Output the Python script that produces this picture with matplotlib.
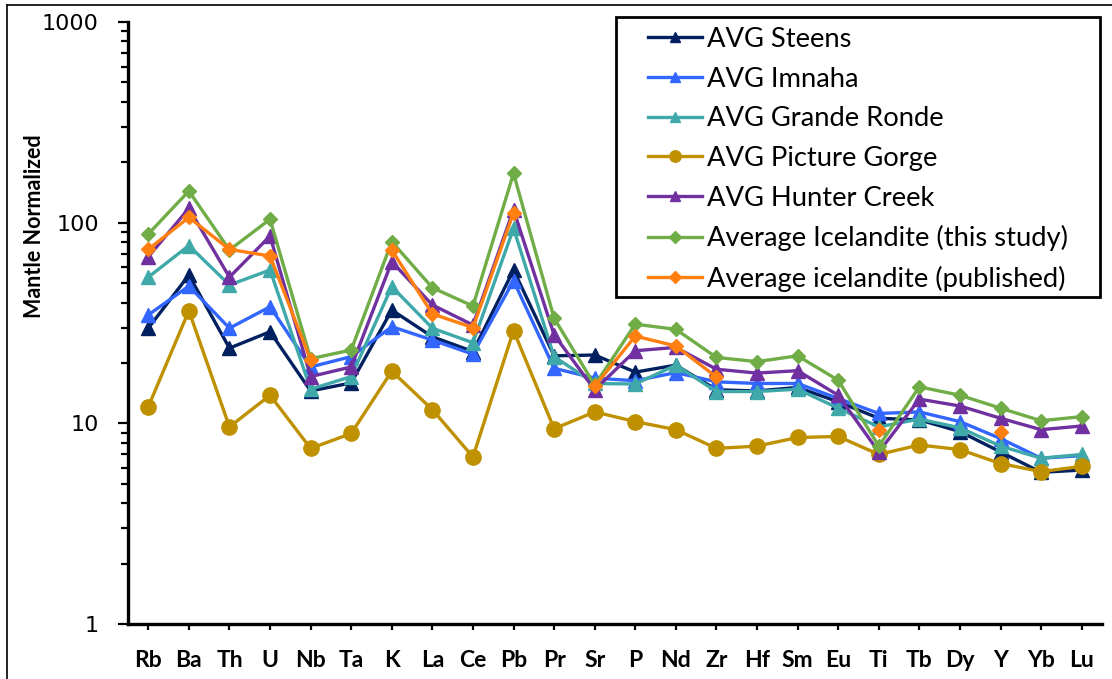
import numpy as np
import matplotlib
matplotlib.use("Agg")
import matplotlib.pyplot as plt
from matplotlib.lines import Line2D
from matplotlib.patches import Rectangle
from matplotlib.ticker import LogLocator, FixedLocator, NullFormatter

nan = np.nan

elements = ['Rb', 'Ba', 'Th', 'U', 'Nb', 'Ta', 'K', 'La', 'Ce', 'Pb', 'Pr', 'Sr',
            'P', 'Nd', 'Zr', 'Hf', 'Sm', 'Eu', 'Ti', 'Tb', 'Dy', 'Y', 'Yb', 'Lu']

steens = [29.8, 54.8, 23.7, 28.6, 14.5, 15.9, 36.7, 27.0, 22.8, 58.1, 21.7, 21.9,
          18.0, 19.5, 14.7, 14.5, 15.1, 12.8, 10.6, 10.4, 9.1, 7.2, 5.7, 5.85]
imnaha = [34.7, 48.3, 29.8, 38.1, 19.1, 21.5, 30.3, 26.0, 22.1, 51.4, 18.8, 16.8,
          16.3, 17.9, 16.1, 15.8, 15.8, 13.3, 11.2, 11.4, 10.2, 8.4, 6.7, 6.9]
grande_ronde = [53.5, 76.9, 48.9, 58.1, 14.8, 17.1, 48.0, 29.8, 25.2, 93.7, 21.5, 15.8,
                15.7, 19.5, 14.4, 14.4, 14.8, 11.9, 9.6, 10.5, 9.5, 7.7, 6.7, 7.0]
picture_gorge = [12.1, 36.4, 9.6, 13.8, 7.5, 8.9, 18.2, 11.7, 6.8, 29.0, 9.4, 11.4,
                 10.2, 9.3, 7.5, 7.7, 8.5, 8.6, 7.0, 7.8, 7.4, 6.3, 5.75, 6.1]
hunter_creek = [67.6, 117.8, 53.5, 85.8, 17.1, 19.1, 63.9, 38.9, 30.9, 116.0, 27.6, 14.7,
                23.0, 23.9, 18.6, 17.8, 18.3, 13.8, 7.2, 13.2, 12.2, 10.6, 9.3, 9.7]
ice_this_study = [87.8, 143.8, 73.1, 104.0, 21.0, 23.2, 80.4, 47.4, 38.4, 176.0, 33.4, 15.5,
                  31.2, 29.4, 21.3, 20.3, 21.7, 16.4, 7.7, 15.2, 13.8, 11.9, 10.3, 10.8]
ice_published = [73.6, 106.3, 73.6, 68.2, 20.7, nan, 73.1, 35.1, 30.0, 112.0, nan, 15.3,
                 27.2, 24.3, 17.0, nan, nan, nan, 9.3, nan, nan, 9.1, nan, nan]

series = [
    ('AVG Steens', steens, '#002060', '^', 10),
    ('AVG Imnaha', imnaha, '#3366FF', '^', 10),
    ('AVG Grande Ronde', grande_ronde, '#3FA9A9', '^', 10),
    ('AVG Picture Gorge', picture_gorge, '#BF9000', 'o', 11),
    ('AVG Hunter Creek', hunter_creek, '#7030A0', '^', 10),
    ('Average Icelandite (this study)', ice_this_study, '#70AD47', 'D', 7.5),
    ('Average icelandite (published)', ice_published, '#FF7F11', 'D', 7.5),
]

W, H = 1112, 679
fig = plt.figure(figsize=(W / 100, H / 100), dpi=100)
ax = fig.add_axes([128 / W, 1 - 624 / H, (1102 - 128) / W, (624 - 22) / H])

x = np.arange(len(elements))
for name, vals, col, mk, ms in series:
    ax.plot(x, vals, color=col, lw=2.4, marker=mk, ms=ms, mec=col, mfc=col, label=name)

ax.set_yscale('log')
ax.set_ylim(1, 1000)
ax.set_xlim(-0.5, len(elements) - 0.5)

ax.yaxis.set_major_locator(FixedLocator([1, 10, 100, 1000]))
ax.yaxis.set_minor_locator(LogLocator(base=10, subs=np.arange(2, 10)))
ax.yaxis.set_minor_formatter(NullFormatter())
ax.set_yticklabels(['1', '10', '100', '1000'], fontsize=16, family='DejaVu Sans')
ax.tick_params(axis='y', which='major', direction='out', length=7, width=1.6, pad=14)
ax.tick_params(axis='y', which='minor', direction='out', length=5, width=1.6)

ax.set_xticks(x)
ax.set_xticklabels(elements, fontsize=16.5, fontweight='bold', family='Lato')
ax.tick_params(axis='x', direction='out', length=4.5, width=1.6, pad=14)

for s in ['top', 'right']:
    ax.spines[s].set_visible(False)
for s in ['left', 'bottom']:
    ax.spines[s].set_linewidth(2.4)

fig.text(35 / W, 1 - 226 / H, 'Mantle Normalized', rotation=90, ha='center', va='center',
         fontsize=15.5, fontweight='bold', family='Lato')

# legend entries without their own frame; the box is drawn separately
leg = ax.legend(loc='upper left', bbox_to_anchor=(648 / W, 1 - 27 / H),
                bbox_transform=fig.transFigure, prop={'family': 'Lato', 'size': 19.7},
                frameon=False, handlelength=1.97, handletextpad=0.18, labelspacing=0.535,
                borderpad=0, borderaxespad=0, markerscale=0.75)
fig.add_artist(Rectangle((616 / W, 1 - 297 / H), (1100 - 616) / W, (297 - 17) / H,
                         transform=fig.transFigure, fill=False, edgecolor='black', lw=2))

# thin frame around the top and left of the figure
fig.add_artist(Line2D([7 / W, 1], [1 - 5 / H, 1 - 5 / H], color='black', lw=1.2,
                      transform=fig.transFigure))
fig.add_artist(Line2D([7 / W, 7 / W], [0, 1 - 5 / H], color='black', lw=1.2,
                      transform=fig.transFigure))

fig.savefig('out.png', dpi=100)
